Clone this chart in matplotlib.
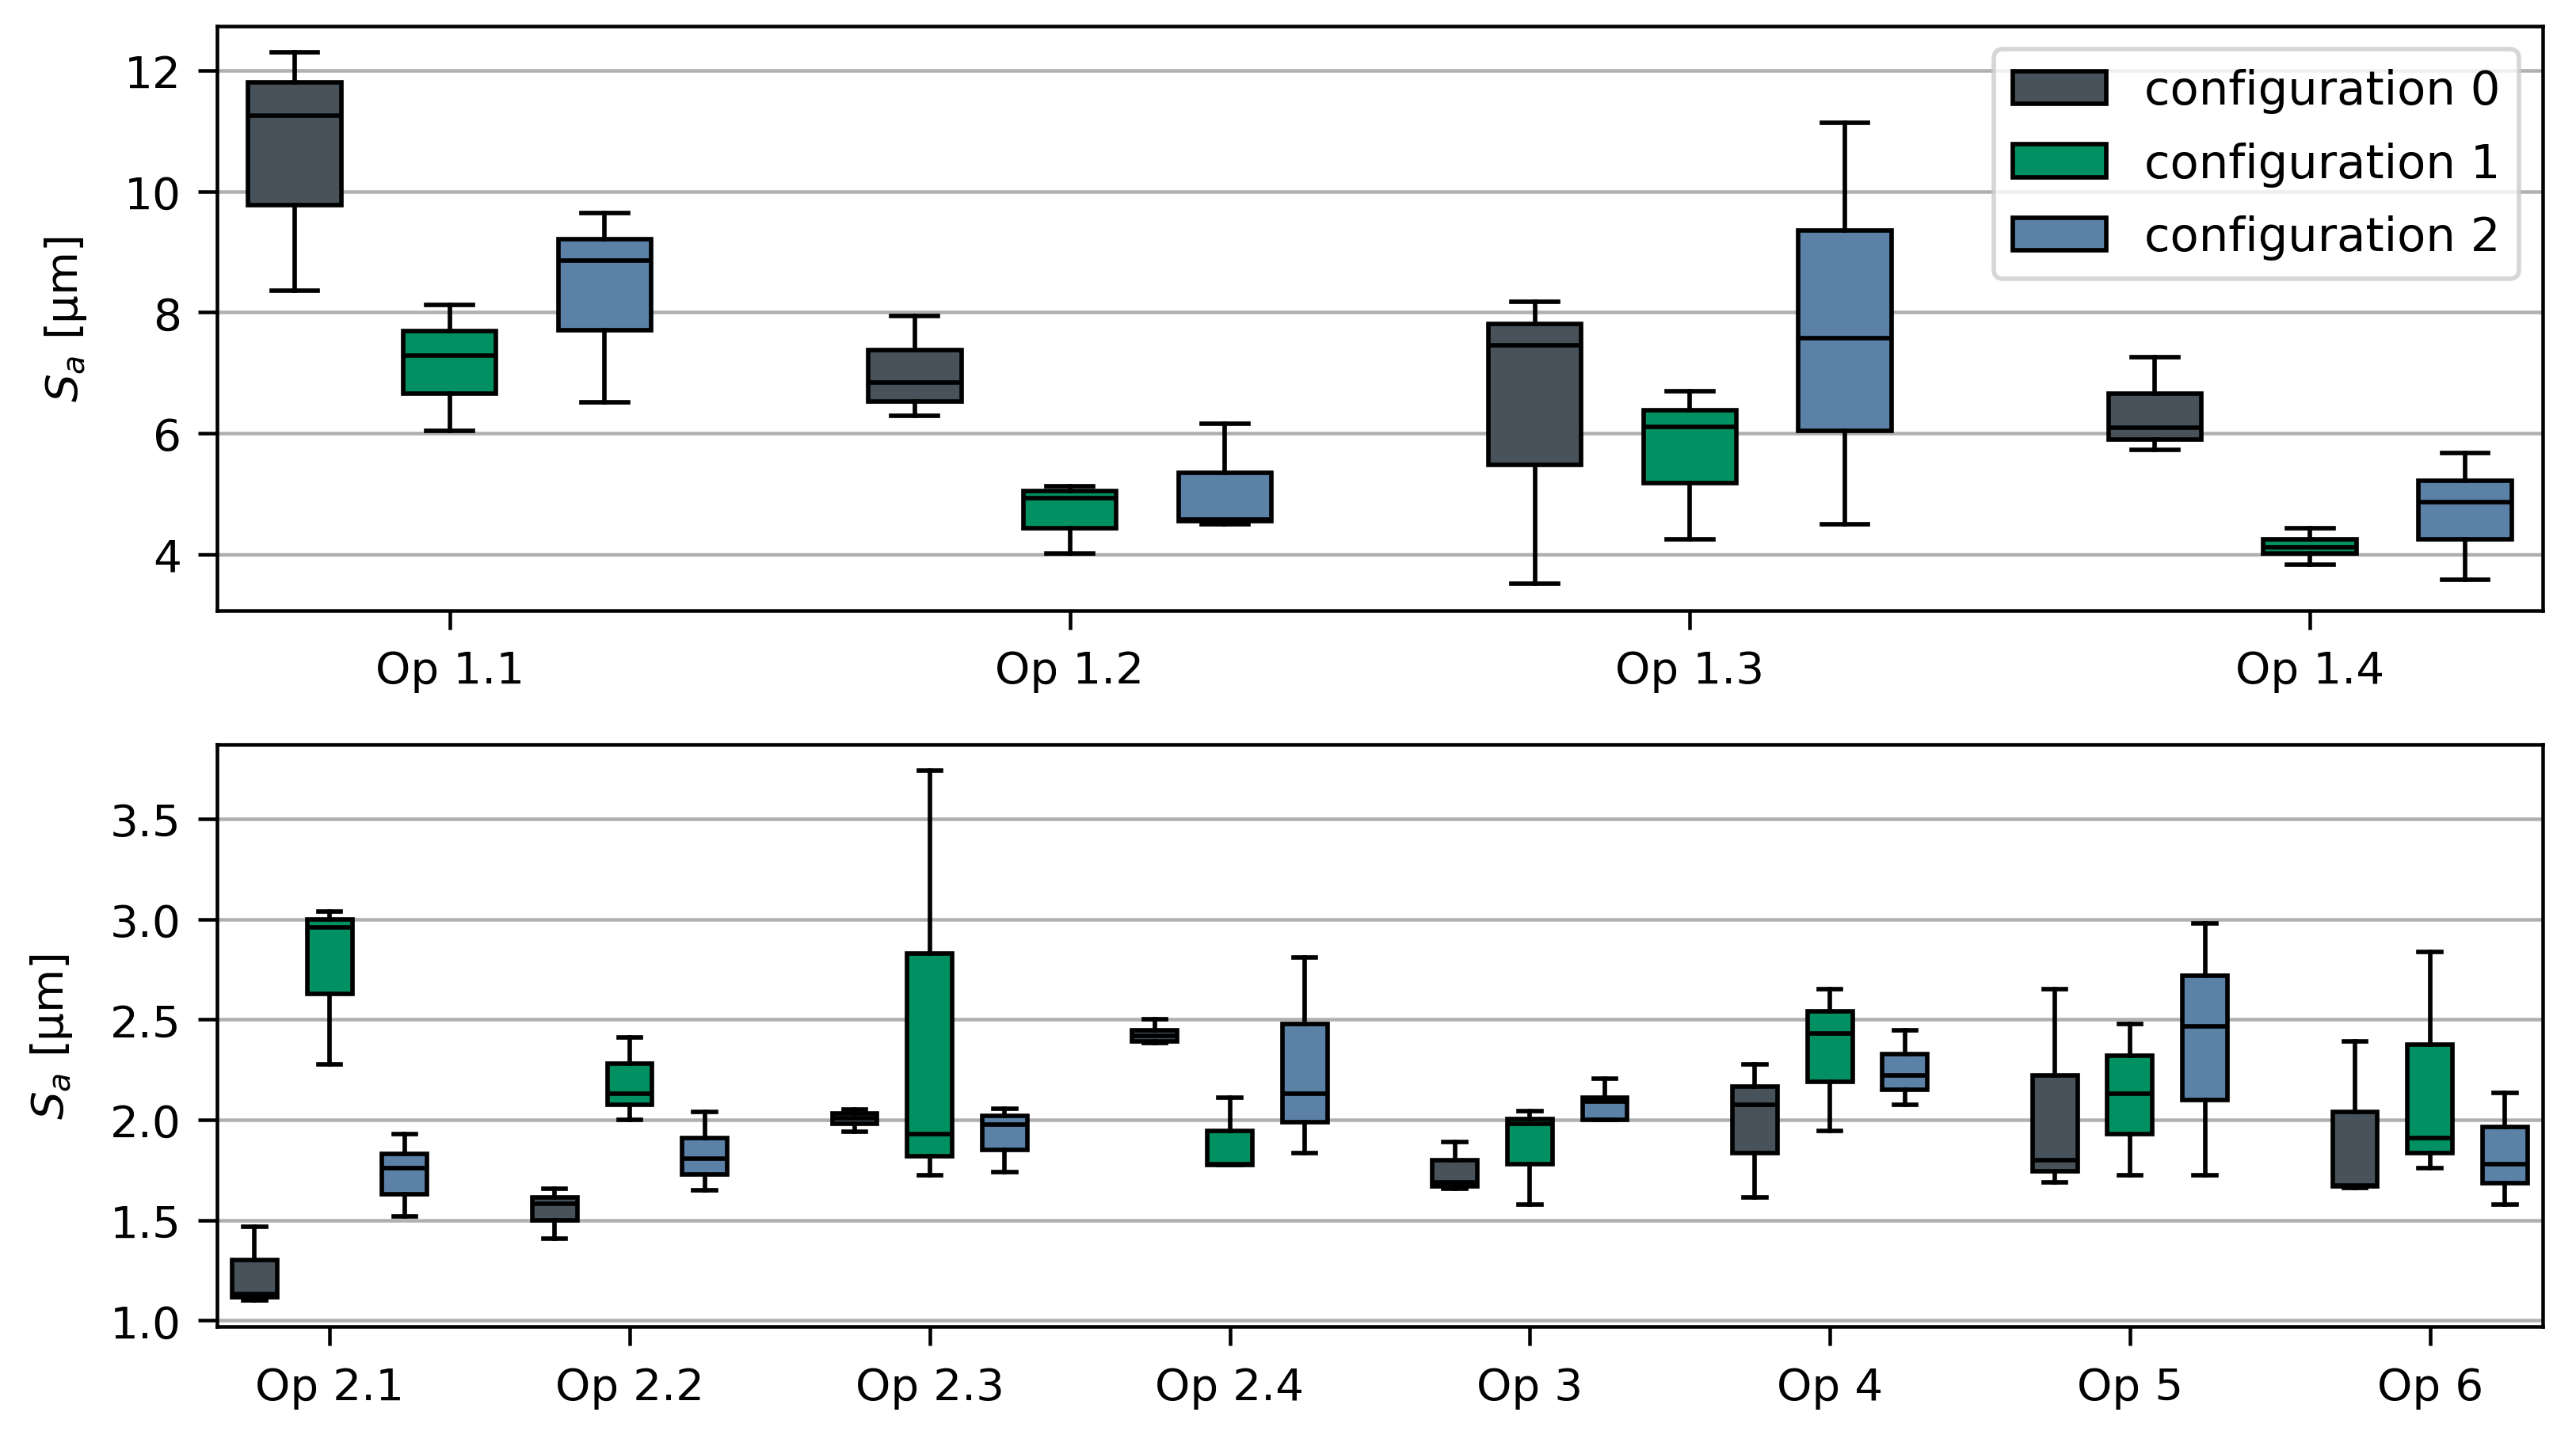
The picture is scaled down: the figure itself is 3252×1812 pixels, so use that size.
import matplotlib
matplotlib.use("Agg")
import matplotlib.pyplot as plt
from matplotlib.patches import Patch

plt.rcParams['font.family'] = ['DejaVu Sans']
plt.rcParams['xtick.major.size'] = 4.2
plt.rcParams['ytick.major.size'] = 4.2
plt.rcParams['xtick.major.pad'] = 4.5
plt.rcParams['ytick.major.pad'] = 3.8

series_labels = ["configuration 0", "configuration 1", "configuration 2"]
colors = ["#47525a", "#009062", "#5b81a6"]

# ---- top panel ----
top_ops = ["Op 1.1", "Op 1.2", "Op 1.3", "Op 1.4"]
# each list: per op, per configuration
top_whislo = [[8.36, 6.04, 6.51], [6.29, 4.01, 4.49], [3.51, 4.24, 4.49], [5.72, 3.82, 3.57]]
top_q1     = [[9.78, 6.66, 7.70], [6.53, 4.43, 4.54], [5.48, 5.18, 6.04], [5.90, 4.01, 4.24]]
top_med    = [[11.26, 7.28, 8.86], [6.84, 4.93, 4.57], [7.45, 6.10, 7.57], [6.09, 4.12, 4.86]]
top_q3     = [[11.81, 7.69, 9.21], [7.38, 5.05, 5.35], [7.81, 6.38, 9.35], [6.65, 4.24, 5.22]]
top_whishi = [[12.30, 8.13, 9.65], [7.94, 5.12, 6.16], [8.18, 6.70, 11.14], [7.26, 4.43, 5.67]]

# ---- bottom panel ----
bot_ops = ["Op 2.1", "Op 2.2", "Op 2.3", "Op 2.4", "Op 3", "Op 4", "Op 5", "Op 6"]
bot_whislo = [[1.10, 2.275, 1.52], [1.41, 2.00, 1.65], [1.94, 1.725, 1.74], [2.385, 1.775, 1.833],
              [1.656, 1.576, 2.00], [1.615, 1.947, 2.076], [1.69, 1.725, 1.725], [1.66, 1.76, 1.576]]
bot_q1     = [[1.117, 2.63, 1.63], [1.50, 2.076, 1.727], [1.98, 1.817, 1.85], [2.39, 1.775, 1.99],
              [1.667, 1.78, 2.00], [1.833, 2.19, 2.15], [1.743, 1.93, 2.10], [1.667, 1.833, 1.686]]
bot_med    = [[1.13, 2.96, 1.76], [1.58, 2.13, 1.805], [2.007, 1.93, 1.977], [2.42, 1.78, 2.13],
              [1.69, 1.98, 2.09], [2.076, 2.43, 2.22], [1.80, 2.13, 2.465], [1.672, 1.908, 1.778]]
bot_q3     = [[1.30, 3.00, 1.83], [1.615, 2.28, 1.91], [2.03, 2.83, 2.02], [2.447, 1.947, 2.48],
              [1.80, 2.005, 2.11], [2.167, 2.54, 2.33], [2.22, 2.32, 2.72], [2.04, 2.374, 1.966]]
bot_whishi = [[1.466, 3.04, 1.93], [1.656, 2.41, 2.04], [2.05, 3.74, 2.057], [2.50, 2.11, 2.81],
              [1.89, 2.044, 2.204], [2.275, 2.65, 2.447], [2.65, 2.48, 2.98], [2.39, 2.837, 2.133]]


def draw_panel(ax, ops, whislo, q1, med, q3, whishi):
    n = len(ops)
    for c in range(3):
        stats = []
        pos = []
        for g in range(n):
            stats.append(dict(whislo=whislo[g][c], q1=q1[g][c], med=med[g][c],
                              q3=q3[g][c], whishi=whishi[g][c], fliers=[]))
            pos.append(4 * g + c)
        ax.bxp(stats, positions=pos, widths=0.6, patch_artist=True, showfliers=False,
               boxprops=dict(facecolor=colors[c], edgecolor="black", linewidth=1.0),
               medianprops=dict(color="black", linewidth=1.0),
               whiskerprops=dict(color="black", linewidth=1.0),
               capprops=dict(color="black", linewidth=1.0),
               manage_ticks=False, zorder=3)
    ax.set_xticks([4 * g + 1 for g in range(n)])
    ax.set_xticklabels(ops)
    ax.set_xlim(-0.5, 4 * n - 1.5)
    ax.yaxis.grid(True, color="#b0b0b0", linewidth=0.8, zorder=0)
    ax.set_axisbelow(True)
    ax.set_ylabel(r"$S_a$ [µm]", labelpad=8)


fig = plt.figure(figsize=(8.0, 4.46), dpi=406.5)
ax1 = fig.add_axes([0.0843, 0.5744, 0.987 - 0.0843, 0.9814 - 0.5744])
ax2 = fig.add_axes([0.0843, 0.0753, 0.987 - 0.0843, 0.481 - 0.0753])

draw_panel(ax1, top_ops, top_whislo, top_q1, top_med, top_q3, top_whishi)
draw_panel(ax2, bot_ops, bot_whislo, bot_q1, bot_med, bot_q3, bot_whishi)

ax1.set_yticks([4, 6, 8, 10, 12])
ax2.set_yticks([1.0, 1.5, 2.0, 2.5, 3.0, 3.5])

handles = [Patch(facecolor=colors[i], edgecolor="black", label=series_labels[i]) for i in range(3)]
ax1.legend(handles=handles, loc="upper right", fontsize=10.5, labelspacing=0.6)

fig.savefig("out.png", dpi=406.5)
